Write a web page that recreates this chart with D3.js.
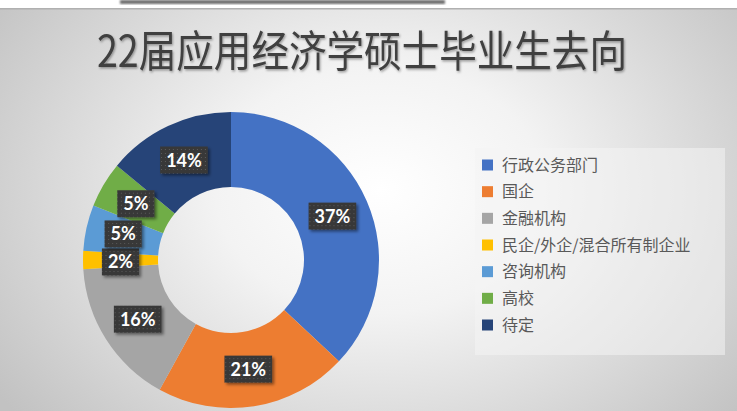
<!DOCTYPE html>
<html><head><meta charset="utf-8">
<script src="https://cdn.jsdelivr.net/npm/d3@7"></script>
<style>
html,body{margin:0;padding:0;background:#fff;}
svg{display:block;}
</style></head>
<body>
<svg id="c" width="737" height="411"></svg>
<script>
const categories = ["行政公务部门","国企","金融机构","民企/外企/混合所有制企业","咨询机构","高校","待定"];
const values = [37, 21, 16, 2, 5, 5, 14];
const colors = ["#4472C4","#ED7D31","#A5A5A5","#FFC000","#5B9BD5","#70AD47","#264478"];
const title = "22届应用经济学硕士毕业生去向";

const W = 737, H = 411;
const svg = d3.select("#c");
const defs = svg.append("defs");

const bg = defs.append("radialGradient").attr("id","bg")
  .attr("cx", 380).attr("cy", 190).attr("r", 470).attr("gradientUnits","userSpaceOnUse")
  .attr("gradientTransform","translate(380,190) scale(1,0.75) translate(-380,-190)");
bg.append("stop").attr("offset","0").attr("stop-color","#ffffff");
bg.append("stop").attr("offset","0.35").attr("stop-color","#f3f3f3");
bg.append("stop").attr("offset","1").attr("stop-color","#c2c2c2");

const pat = defs.append("pattern").attr("id","dots").attr("width",4).attr("height",4).attr("patternUnits","userSpaceOnUse");
pat.append("rect").attr("width",4).attr("height",4).attr("fill","#383838");
pat.append("rect").attr("x",1).attr("y",1).attr("width",1).attr("height",1).attr("fill","#5a5a5a");

const sh = defs.append("filter").attr("id","sh").attr("x","-30%").attr("y","-30%").attr("width","160%").attr("height","160%");
sh.append("feDropShadow").attr("dx",2).attr("dy",2).attr("stdDeviation",1.5).attr("flood-color","#000").attr("flood-opacity",0.45);
const tsh = defs.append("filter").attr("id","tsh");
tsh.append("feDropShadow").attr("dx",1).attr("dy",1.5).attr("stdDeviation",1).attr("flood-color","#000").attr("flood-opacity",0.35);
const blur = defs.append("filter").attr("id","blur");
blur.append("feGaussianBlur").attr("stdDeviation",1.2);

svg.append("rect").attr("width",W).attr("height",H).attr("fill","url(#bg)");

// top white strip (cropped caption)
svg.append("rect").attr("width",W).attr("height",8).attr("fill","#ffffff");
svg.append("rect").attr("x",120).attr("y",0).attr("width",325).attr("height",4).attr("fill","#333").attr("opacity",0.7).attr("filter","url(#blur)");
svg.append("rect").attr("y",8).attr("width",W).attr("height",1.5).attr("fill","#b0b0b0");

// title
svg.append("text").attr("x",362).attr("y",67)
  .attr("text-anchor","middle")
  .attr("font-family","'Noto Sans CJK SC','Noto Sans',sans-serif")
  .attr("font-size",43).attr("fill","#404040")
  .attr("textLength",530).attr("lengthAdjust","spacingAndGlyphs")
  .attr("filter","url(#tsh)")
  .text(title);

// donut
const cx = 231, cy = 260, R = 148, r0 = 73;
const pie = d3.pie().sort(null).value(d => d);
const arcs = pie(values);
const arc = d3.arc().innerRadius(r0).outerRadius(R);
const g = svg.append("g").attr("transform",`translate(${cx},${cy})`);
g.selectAll("path").data(arcs).join("path")
  .attr("d", arc).attr("fill", (d,i) => colors[i]);

// labels
const total = d3.sum(values);
const fmt = v => Math.round(v/total*100) + "%";
const lbl = arcs.map((d,i) => {
  const [x,y] = arc.centroid(d);
  return {i, x, y, text: fmt(values[i])};
});
const lg = g.append("g");
const tmp = lg.append("text").attr("font-family","Lato,'Open Sans',sans-serif").attr("font-weight","bold").attr("font-size",18);
lbl.forEach(l => { tmp.text(l.text); l.w = tmp.node().getComputedTextLength() + 12; l.h = 27; });
tmp.remove();
// relax overlaps vertically
for (let it=0; it<60; it++) {
  for (let a=0; a<lbl.length; a++) for (let b=a+1; b<lbl.length; b++) {
    const A = lbl[a], B = lbl[b];
    const ox = (A.w + B.w)/2 - Math.abs(A.x - B.x);
    const oy = (A.h + B.h)/2 + 1 - Math.abs(A.y - B.y);
    if (ox > 0 && oy > 0) {
      const s = A.y < B.y ? -1 : 1;
      A.y += s*oy/2*0.5; B.y -= s*oy/2*0.5;
    }
  }
}
const lab = lg.selectAll("g").data(lbl).join("g").attr("transform", d => `translate(${d.x},${d.y})`);
lab.append("rect").attr("x", d => -d.w/2).attr("y", d => -d.h/2).attr("width", d => d.w).attr("height", d => d.h)
  .attr("fill","url(#dots)").attr("filter","url(#sh)");
lab.append("text").attr("text-anchor","middle").attr("dy","0.36em")
  .attr("font-family","Lato,'Open Sans',sans-serif").attr("font-weight","bold").attr("font-size",18)
  .attr("fill","#ffffff").text(d => d.text);

// legend
const lgx = 475, lgy = 148, lgw = 250, lgh = 207;
svg.append("rect").attr("x",lgx).attr("y",lgy).attr("width",lgw).attr("height",lgh).attr("fill","#f4f4f4").attr("opacity",0.55);
const y = d3.scalePoint().domain(categories).range([lgy+17, lgy+177]);
const li = svg.append("g").selectAll("g").data(categories).join("g")
  .attr("transform", d => `translate(${lgx+7},${y(d)})`);
li.append("rect").attr("x",0).attr("y",-5.5).attr("width",11).attr("height",11).attr("fill",(d,i)=>colors[i]);
li.append("text").attr("x",20).attr("dy","0.36em")
  .attr("font-family","'Noto Sans CJK SC',sans-serif").attr("font-size",16).attr("fill","#595959")
  .text(d => d);
</script>
</body></html>
